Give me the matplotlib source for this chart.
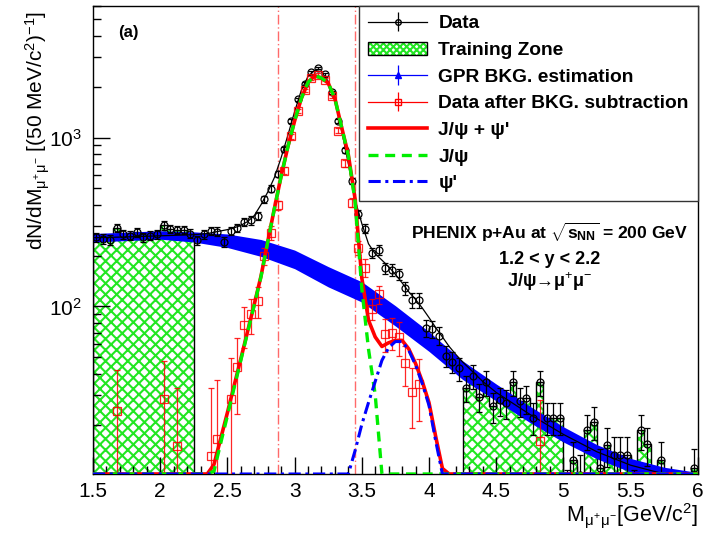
import numpy as np
import matplotlib
matplotlib.use('Agg')
import matplotlib.pyplot as plt
from matplotlib.patches import Patch
from matplotlib.lines import Line2D
from matplotlib.ticker import MultipleLocator, FuncFormatter, LogLocator, NullFormatter

plt.rcParams['font.family'] = ['Liberation Sans', 'DejaVu Sans']
plt.rcParams['mathtext.fontset'] = 'custom'
plt.rcParams['mathtext.rm'] = 'Liberation Sans'
plt.rcParams['mathtext.it'] = 'Liberation Sans'
plt.rcParams['mathtext.bf'] = 'Liberation Sans:bold'
plt.rcParams['hatch.linewidth'] = 1.5

# ---------------- data ----------------
bin_width = 0.05
# dimuon counts per 50 MeV bin, 1.5 -> 6.0 GeV (90 bins)
data_counts = [
    257, 251, 248, 292, 267, 263, 275, 257, 263, 267,
    302, 288, 284, 284, 270, 246, 268, 280, 277, 242,
    280, 292, 318, 323, 343, 430, 498, 608, 850, 1260,
    1680, 2080, 2430, 2580, 2370, 1850, 1260, 838, 556, 355,
    289, 207, 217, 168, 165, 155, 128, 109, 109, 75,
    74, 67, 51, 47, 43, 33, 38.6, 29.3, 35.6, 25.6,
    27.8, 26.8, 35.6, 27.5, 28.6, 22, 35.6, 22, 22, 22,
    8, 12.3, 10, 18.5, 20.7, 11, 15.1, 13.3, 13.3, 13.3,
    8, 18.5, 15.3, 5, 12.3, 5, 5, 5, 5, 11,
]
train_zones = [(1.5, 2.25), (4.25, 6.0)]

# data after background subtraction
sub_mass = [1.675, 2.025, 2.125, 2.375, 2.425, 2.525, 2.575, 2.625, 2.675, 2.725,
            2.775, 2.825, 2.875, 2.925, 2.975, 3.025, 3.075, 3.125, 3.175, 3.225,
            3.275, 3.325, 3.375, 3.425, 3.475, 3.525, 3.575, 3.625, 3.675, 3.725,
            3.775, 3.825, 3.875, 3.925, 4.825]
sub_vals = [24, 28.5, 15, 13, 16.5, 28.5, 44, 78, 90, 108,
            200, 274, 396, 636, 1020, 1440, 1900, 2250, 2350, 2200,
            1750, 1100, 703, 412, 223, 170, 97, 118, 69, 70,
            66, 46, 31, 35, 16]
sub_err = [18, 19, 18, 20, 20, 21, 21, 21, 21, 22,
           23, 25, 26, 30, 36, 42, 46, 50, 52, 50,
           45, 37, 31, 26, 22, 20, 14, 15, 15, 15,
           15, 12, 12, 14, 12]

# GPR background estimation (centre and half width in dex)
bkg_mass = [1.5, 1.75, 2.0, 2.25, 2.5, 2.75, 3.0, 3.25, 3.5, 3.75,
            4.0, 4.25, 4.5, 4.75, 5.0, 5.25, 5.5, 5.75, 6.0]
bkg_center = [255, 260, 265, 258, 245, 222, 190, 150, 122, 88,
              62, 42, 31, 23, 17.5, 13.8, 11.5, 10.2, 9.5]
bkg_halfwidth_dex = [0.025, 0.025, 0.025, 0.03, 0.04, 0.05, 0.055, 0.06, 0.06, 0.06,
                     0.058, 0.055, 0.05, 0.048, 0.045, 0.042, 0.04, 0.04, 0.04]

# total fit (thin black line)
total_mass = [1.5, 1.75, 2.0, 2.25, 2.3, 2.35, 2.4, 2.45, 2.5, 2.55, 2.6, 2.65, 2.7,
              2.75, 2.8, 2.85, 2.9, 2.95, 3.0, 3.05, 3.1, 3.15, 3.2, 3.25, 3.3,
              3.35, 3.4, 3.45, 3.5, 3.55, 3.6, 3.65, 3.7, 3.75, 3.8, 3.85, 3.9,
              3.95, 4.0, 4.05, 4.1, 4.15, 4.2, 4.25, 4.3, 4.4, 4.5, 4.75, 5.0,
              5.25, 5.5, 5.75, 6.0]
total_fit = [255, 258, 262, 266, 268, 270, 275, 280, 285, 292, 302, 318, 345,
             400, 475, 580, 760, 1030, 1420, 1900, 2300, 2500, 2450, 2150, 1650,
             1100, 700, 430, 310, 235, 205, 188, 172, 155, 138, 122, 110,
             98, 86, 75, 66, 58, 52, 47, 43, 36, 31, 23, 17.5,
             13.8, 11.5, 10.2, 9.5]

# signal fit components on a 50 MeV grid from 2.35 to 4.15 GeV
sig_mass = [2.35, 2.40, 2.45, 2.50, 2.55, 2.60, 2.65, 2.70, 2.75, 2.80,
            2.85, 2.90, 2.95, 3.00, 3.05, 3.10, 3.15, 3.20, 3.25, 3.30,
            3.35, 3.40, 3.45, 3.50, 3.55, 3.60, 3.65, 3.70, 3.75, 3.80,
            3.85, 3.90, 3.95, 4.00, 4.05, 4.10, 4.15]
jpsi_fit = [7, 10.6, 15.5, 22.5, 33, 48, 70, 102, 150, 240,
            380, 590, 880, 1250, 1700, 2120, 2320, 2250, 2100, 1700,
            1150, 780, 420, 128, 56, 30, 10, 4, 1, 1,
            1, 1, 1, 1, 1, 1, 1]
psi2s_fit = [1, 1, 1, 1, 1, 1, 1, 1, 1, 1,
             1, 1, 1, 1, 1, 1, 1, 1, 1, 1,
             1, 10, 14, 20, 27, 36, 48, 57, 62, 62,
             55, 45, 35, 26, 16, 10, 5]

window_edges = [2.88, 3.45]

# ---------------- plotting ----------------
ymin, ymax = 10.2, 6000
green = '#22e622'

fig = plt.figure(figsize=(7.12, 5.33), dpi=100)
ax = fig.add_axes([0.1306, 0.1107, 0.8494, 0.8780])
ax.set_yscale('log')

mass = np.round(1.5 + bin_width / 2 + bin_width * np.arange(len(data_counts)), 3)
counts = np.array(data_counts, dtype=float)

# training zones: hatched histogram with black outline
for lo, hi in train_zones:
    m = (mass > lo) & (mass < hi)
    vals = counts[m]
    edges = np.append(mass[m] - bin_width / 2, mass[m][-1] + bin_width / 2)
    ax.stairs(vals, edges, baseline=1, fill=True, facecolor='white',
              edgecolor=green, hatch='xxx', linewidth=0, zorder=1)
    ax.stairs(vals, edges, baseline=1, fill=False, color='black',
              linewidth=1.0, zorder=1.2)

# window lines
for xw in window_edges:
    ax.axvline(xw, color='#ff5050', lw=1.0, ls=(0, (7, 2, 1, 2)), alpha=0.85, zorder=1.5)

# GPR band
bc = np.array(bkg_center)
bw = np.array(bkg_halfwidth_dex)
ax.fill_between(bkg_mass, bc / 10 ** bw, bc * 10 ** bw, color='#0000ff', lw=0, zorder=2)

# total fit
ax.plot(total_mass, total_fit, color='black', lw=0.9, zorder=2.5)

# data
ax.errorbar(mass, counts, yerr=np.sqrt(counts), fmt='o', ms=5, mfc='none',
            mec='black', mew=0.9, ecolor='black', elinewidth=0.9, capsize=2,
            capthick=0.9, zorder=3)

# subtracted data
ax.errorbar(sub_mass, sub_vals, yerr=sub_err, fmt='s', ms=5.5, mfc='none',
            mec='red', mew=0.9, ecolor='red', elinewidth=0.9, capsize=2,
            capthick=0.9, zorder=3.5, alpha=0.85)

# fit components (values below the axis are drawn along the bottom)
xs = np.concatenate([[1.5], sig_mass, [6.0]])
j = np.clip(np.concatenate([[0], jpsi_fit, [0]]), ymin, None)
p = np.clip(np.concatenate([[0], psi2s_fit, [0]]), ymin, None)
s = np.clip(np.concatenate([[0], np.array(jpsi_fit) + np.array(psi2s_fit), [0]]), ymin, None)
ax.plot(xs, s, color='red', lw=2.6, zorder=4)
ax.plot(xs, j, color='#00ee00', lw=2.4, ls=(0, (3, 2)), zorder=4.2)
ax.plot(xs, p, color='#0000ff', lw=2.2, ls=(0, (4, 1.5, 1, 1.5)), zorder=4.4)

ax.set_xlim(1.5, 6.0)
ax.set_ylim(ymin, ymax)

ax.xaxis.set_major_locator(MultipleLocator(0.5))
ax.xaxis.set_minor_locator(MultipleLocator(0.1))
ax.xaxis.set_major_formatter(FuncFormatter(lambda v, pos: '%g' % v))
ax.yaxis.set_major_locator(LogLocator(base=10))
ax.yaxis.set_minor_locator(LogLocator(base=10, subs=np.arange(2, 10)))
ax.yaxis.set_minor_formatter(NullFormatter())
ax.tick_params(which='both', direction='in', top=False, right=False, width=1)
ax.tick_params(which='major', length=12, labelsize=15)
ax.tick_params(axis='x', which='major', pad=6)
ax.tick_params(axis='y', which='major', pad=8)
ax.tick_params(which='minor', length=6)
for sp in ax.spines.values():
    sp.set_linewidth(1.0)

ax.set_ylabel(r'dN/dM$_{\mu^{+}\mu^{-}}$ [(50 MeV/c$^{2}$)$^{-1}$]', fontsize=15, loc='top')
ax.yaxis.set_label_coords(-0.068, 0.99)

# x-axis title, right-aligned at the end of the axis
ax.text(1.0, -0.058, r'M$_{\mu^{+}\mu^{-}}$[GeV/c$^{2}$]', transform=ax.transAxes,
        fontsize=15.5, ha='right', va='top')

ax.text(0.041, 0.944, '(a)', transform=ax.transAxes, fontsize=12, fontweight='bold',
        va='center', ha='left')
ax.text(0.755, 0.517, r'PHENIX p+Au at $\sqrt{\mathbf{s}_{\mathbf{NN}}}$ = 200 GeV',
        transform=ax.transAxes, fontsize=12.6, fontweight='bold', ha='center', va='center')
ax.text(0.755, 0.459, '1.2 < y < 2.2', transform=ax.transAxes, fontsize=13,
        fontweight='bold', ha='center', va='center')
ax.text(0.755, 0.410, 'J/ψ→μ$^{+}$μ$^{-}$', transform=ax.transAxes, fontsize=13,
        fontweight='bold', ha='center', va='center')

# legend proxies
h_data = ax.errorbar([np.nan], [np.nan], yerr=[1], fmt='-o', ms=4, mfc='none', mec='black',
                     color='black', lw=0.9, elinewidth=0.9, capsize=0)
h_gpr = ax.errorbar([np.nan], [np.nan], yerr=[1], fmt='-^', ms=4, color='#0000ff',
                    lw=0.9, elinewidth=0.9, capsize=0)
h_sub = ax.errorbar([np.nan], [np.nan], yerr=[1], fmt='-s', ms=4, mfc='none', mec='red',
                    color='red', lw=0.9, elinewidth=0.9, capsize=0)
p_hatch = Patch(facecolor='white', edgecolor=green, hatch='xxxxx', linewidth=0)
p_border = Patch(facecolor='none', edgecolor='black', linewidth=1.0)
l_sum = Line2D([], [], color='red', lw=2.6)
l_j = Line2D([], [], color='#00ee00', lw=2.4, ls=(0, (3, 2)))
l_p = Line2D([], [], color='#0000ff', lw=2.2, ls=(0, (4, 1.5, 1, 1.5)))

handles = [h_data, (p_hatch, p_border), h_gpr, h_sub, l_sum, l_j, l_p]
labels = ['Data', 'Training Zone', 'GPR BKG. estimation', 'Data after BKG. subtraction',
          "J/ψ + ψ'", 'J/ψ', "ψ'"]
leg = ax.legend(handles, labels, loc='upper right', bbox_to_anchor=(1, 1), borderaxespad=0,
                prop={'weight': 'bold', 'size': 13.8}, handlelength=3.1, handletextpad=0.57,
                labelspacing=0.48, borderpad=0.47, frameon=True, fancybox=False,
                edgecolor='#333333', framealpha=1)
leg.get_frame().set_linewidth(1.0)
leg.set_zorder(10)

fig.savefig('out.png', dpi=100)
